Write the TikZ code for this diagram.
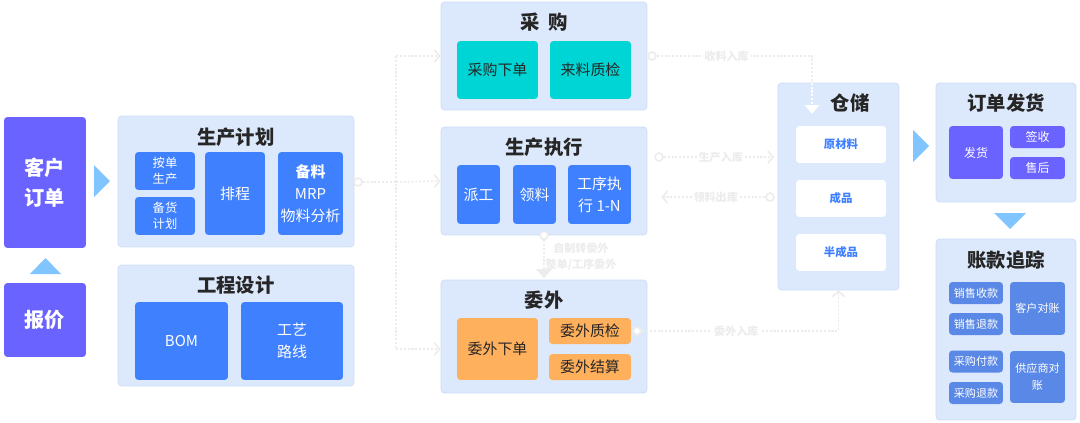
\documentclass[tikz,border=0pt]{standalone}
\usepackage{fontspec}
\setmainfont{Noto Sans CJK SC}
\usetikzlibrary{arrows.meta,positioning}
\definecolor{panelc}{HTML}{DCE8FB}
\definecolor{panelline}{HTML}{CCDCF5}
\definecolor{purp}{HTML}{6A63FF}
\definecolor{blu}{HTML}{3F80FF}
\definecolor{tealc}{HTML}{00D5D5}
\definecolor{orng}{HTML}{FFB05C}
\definecolor{acct}{HTML}{5A88E6}
\definecolor{tri}{HTML}{80C5FF}
\definecolor{linkc}{HTML}{ECECEC}
\definecolor{ink}{HTML}{262626}

\begin{document}
\begin{tikzpicture}[x=0.02cm,y=-0.02cm,
  panel/.style={fill=panelc,draw=panelline,rounded corners=2pt,inner sep=0pt},
  head/.style={text=ink,font=\fontsize{11}{13}\selectfont\bfseries},
  cell/.style={rounded corners=2pt,inner sep=0pt,align=center,text=white},
  stock/.style={cell,fill=white,text=blu,font=\fontsize{6.5}{8}\selectfont\bfseries,minimum width=1.8cm,minimum height=0.74cm},
  ring/.style={circle,draw=linkc,fill=white,line width=0.9pt,minimum size=0.16cm,inner sep=0pt},
  link/.style={draw=linkc,line width=0.9pt,dash pattern=on 1.2pt off 1pt},
  tag/.style={fill=white,text=linkc,inner sep=1pt,align=center,font=\fontsize{6.3}{9}\selectfont\bfseries},
  barb/.style={-{Straight Barb[length=3pt,width=7pt]}}]
\useasboundingbox (0,0) rectangle (1080,423);

% left column
\node[cell,fill=purp,minimum width=1.64cm,minimum height=2.62cm,font=\fontsize{11.5}{17}\selectfont\bfseries] (order) at (45,182.5) {客户\\订单};
\node[cell,fill=purp,minimum width=1.64cm,minimum height=1.48cm,font=\fontsize{11.5}{17}\selectfont\bfseries] (quote) at (45,320) {报价};
\fill[tri] (30,274) -- (61,274) -- (45.5,258) -- cycle;
\fill[tri] (94,165) -- (94,197) -- (110,181) -- cycle;

% planning
\node[panel,minimum width=4.72cm,minimum height=2.62cm] (plan) at (236,181.5) {};
\node[head] (planT) at (236,137) {生产计划};
\node[cell,fill=blu,minimum width=1.2cm,minimum height=0.76cm,font=\fontsize{7}{9}\selectfont] (byorder) at (165,171) {按单\\生产};
\node[cell,fill=blu,minimum width=1.2cm,minimum height=0.76cm,font=\fontsize{7}{9}\selectfont] (bystock) at (165,216) {备货\\计划};
\node[cell,fill=blu,minimum width=1.2cm,minimum height=1.66cm,font=\fontsize{8.5}{12.5}\selectfont] (sched) at (235,193.5) {排程};
\node[cell,fill=blu,minimum width=1.3cm,minimum height=1.66cm,font=\fontsize{8.5}{12.5}\selectfont] (mrp) at (310.5,193.5) {\textbf{备料}\\MRP\\物料分析};

% engineering
\node[panel,minimum width=4.72cm,minimum height=2.42cm] (eng) at (236,325.5) {};
\node[head] (engT) at (236,285) {工程设计};
\node[cell,fill=blu,minimum width=1.86cm,minimum height=1.56cm,font=\fontsize{8.5}{12.5}\selectfont] (bom) at (181.5,341) {BOM};
\node[cell,fill=blu,minimum width=2.04cm,minimum height=1.56cm,font=\fontsize{8.5}{12.5}\selectfont] (route) at (292,341) {工艺\\路线};

% purchasing
\node[panel,minimum width=4.12cm,minimum height=2.16cm] (purch) at (544,56) {};
\node[head] (purchT) at (544,22) {采\hspace{0.45em}购};
\node[cell,fill=tealc,text=ink,minimum width=1.62cm,minimum height=1.16cm,font=\fontsize{8.5}{12}\selectfont] (po) at (497.5,70) {采购下单};
\node[cell,fill=tealc,text=ink,minimum width=1.62cm,minimum height=1.16cm,font=\fontsize{8.5}{12}\selectfont] (iqc) at (590.5,70) {来料质检};

% execution
\node[panel,minimum width=4.12cm,minimum height=2.16cm] (exec) at (544,181) {};
\node[head] (execT) at (544,147) {生产执行};
\node[cell,fill=blu,minimum width=0.86cm,minimum height=1.18cm,font=\fontsize{8.5}{12.5}\selectfont] (disp) at (478.5,194.5) {派工};
\node[cell,fill=blu,minimum width=0.86cm,minimum height=1.18cm,font=\fontsize{8.5}{12.5}\selectfont] (pick) at (534.5,194.5) {领料};
\node[cell,fill=blu,minimum width=1.26cm,minimum height=1.18cm,font=\fontsize{8.5}{12.5}\selectfont] (proc) at (599.5,194.5) {工序执\\行 1-N};

% outsourcing
\node[panel,minimum width=4.12cm,minimum height=2.26cm] (outs) at (544,336.5) {};
\node[head] (outsT) at (544,300) {委外};
\node[cell,fill=orng,text=ink,minimum width=1.62cm,minimum height=1.24cm,font=\fontsize{8.5}{12}\selectfont] (oorder) at (497.5,349) {委外下单};
\node[cell,fill=orng,text=ink,minimum width=1.64cm,minimum height=0.52cm,font=\fontsize{8.5}{12}\selectfont] (oqc) at (590,331) {委外质检};
\node[cell,fill=orng,text=ink,minimum width=1.64cm,minimum height=0.52cm,font=\fontsize{8.5}{12}\selectfont] (osettle) at (590,367) {委外结算};

% storage
\node[panel,minimum width=2.42cm,minimum height=4.14cm] (store) at (838.5,186.5) {};
\node[head] (storeT) at (850,103) {仓储};
\node[stock] (raw) at (841,144.5) {原材料};
\node[stock] (fin) at (841,198.5) {成品};
\node[stock] (semi) at (841,252.5) {半成品};
\fill[tri] (913,130) -- (913,162) -- (929,146) -- cycle;

% shipping
\node[panel,minimum width=2.8cm,minimum height=2.38cm] (ship) at (1006,142.5) {};
\node[head] (shipT) at (1006,103) {订单发货};
\node[cell,fill=purp,minimum width=1.08cm,minimum height=1.06cm,font=\fontsize{6.8}{9}\selectfont] (deliv) at (976,152.5) {发货};
\node[cell,fill=purp,minimum width=1.1cm,minimum height=0.44cm,font=\fontsize{6.8}{9}\selectfont] (sign) at (1037.5,137) {签收};
\node[cell,fill=purp,minimum width=1.1cm,minimum height=0.44cm,font=\fontsize{6.8}{9}\selectfont] (after) at (1037.5,168) {售后};
\fill[tri] (994,213) -- (1026,213) -- (1010,229) -- cycle;

% accounts
\node[panel,minimum width=2.8cm,minimum height=3.62cm] (acc) at (1006,329.5) {};
\node[head] (accT) at (1006,260) {账款追踪};
\node[cell,fill=acct,minimum width=1.08cm,minimum height=0.44cm,font=\fontsize{6.3}{9}\selectfont] (ar) at (976,293) {销售收款};
\node[cell,fill=acct,minimum width=1.08cm,minimum height=0.44cm,font=\fontsize{6.3}{9}\selectfont] (sret) at (976,324) {销售退款};
\node[cell,fill=acct,minimum width=1.1cm,minimum height=1.06cm,font=\fontsize{6.3}{9}\selectfont] (cust) at (1037.5,308.5) {客户对账};
\node[cell,fill=acct,minimum width=1.08cm,minimum height=0.44cm,font=\fontsize{6.3}{9}\selectfont] (ap) at (976,361.5) {采购付款};
\node[cell,fill=acct,minimum width=1.08cm,minimum height=0.44cm,font=\fontsize{6.3}{9}\selectfont] (pret) at (976,393) {采购退款};
\node[cell,fill=acct,minimum width=1.1cm,minimum height=1.04cm,font=\fontsize{6.3}{9.5}\selectfont] (supp) at (1037.5,377) {供应商对\\账};

% plan -> purchasing / execution / outsourcing
\node[ring] (r0) at (358,182) {};
\coordinate (hub) at (396,182);
\draw[link] (r0) -- (hub);
\draw[link] (hub |- purch.west) -- (hub |- oorder.west);
\draw[link,barb] (hub |- purch.west) -- (purch.west);
\draw[link,barb] (hub) -- (exec.west);
\draw[link,barb] (hub |- oorder.west) -- (outs.west |- oorder.west);

% purchasing -> storage
\node[ring] (r1) at (652,56) {};
\coordinate (k1) at (812,56);
\coordinate (k1b) at (812,114);
\draw[link] (r1) -- node[tag,pos=0.45] (t1) {收料入库} (k1) -- (k1 |- store.north);
\draw[link,draw=white,-{Triangle[length=5pt,width=8pt]}] (k1 |- store.north) -- (k1b);

% execution <-> storage
\node[ring] (r2) at (659,157) {};
\draw[link,barb,shorten >=2pt] (r2) -- node[tag,pos=0.5] (t2) {生产入库} (r2 -| store.west);
\node[ring] (r3) at (770,197) {};
\draw[link,barb,shorten >=8pt] (r3) -- node[tag,pos=0.42] (t3) {领料出库} (r3 -| exec.east);

% execution -> outsourcing
\node[ring] (r4) at (exec.south) {};
\draw[link,-{Triangle[length=5pt,width=9pt]},shorten >=1pt] (r4) -- (outs.north);
\node[tag,fill=none] (t4) at (581,257) {自制转委外\\整单/工序委外};

% outsourcing -> storage
\node[ring,line width=1.2pt] (r5) at (637,331) {};
\draw[link,barb] (r5) -- node[tag,pos=0.48] (t5) {委外入库} (r5 -| store.south) -- (store.south);
\end{tikzpicture}
\end{document}
